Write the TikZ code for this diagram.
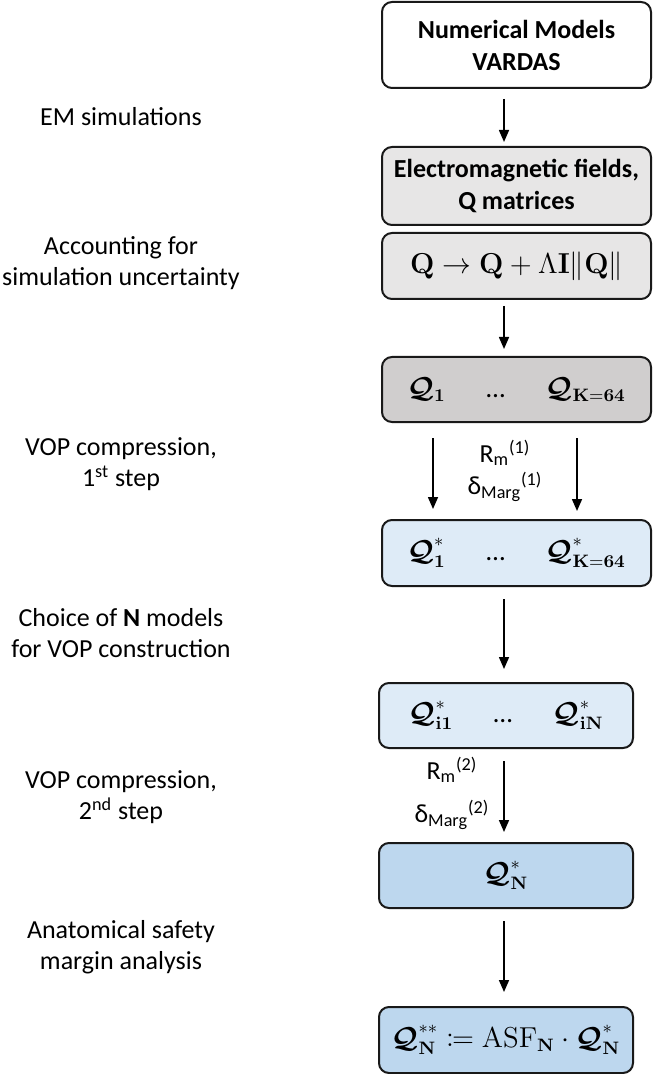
\documentclass[tikz,border=0pt]{standalone}
\usepackage{amsmath}
\usepackage{mathtools}
\usepackage{bm}
\usepackage[no-math]{fontspec}
\setmainfont{Carlito}
\usetikzlibrary{arrows.meta}

\definecolor{grayA}{HTML}{E7E6E6}
\definecolor{grayB}{HTML}{D0CECE}
\definecolor{blueA}{HTML}{DEEBF7}
\definecolor{blueB}{HTML}{BDD7EE}

\newcommand{\Qc}{\bm{\mathcal{Q}}}
\newcommand{\qdots}{\hspace{1.5em}\textnormal{…}\hspace{1.5em}}

\begin{document}
\begin{tikzpicture}[x=0.5pt,y=-0.5pt,
  box/.style={draw=black!90, line width=1pt, rounded corners=5pt, align=center,
    inner sep=0pt, font=\bfseries\fontsize{13}{16}\selectfont},
  wide/.style={box, minimum width=134.5pt},
  narrow/.style={box, minimum width=127pt},
  mathbox/.style={font=\fontsize{13.5}{16}\selectfont},
  side/.style={align=center, font=\fontsize{13}{15.5}\selectfont},
  lbl/.style={font=\fontsize{13}{15}\selectfont},
  arr/.style={-{Triangle[length=6pt,width=5pt]}, line width=0.8pt}]
\useasboundingbox (0,0) rectangle (652,1074);

\coordinate (ax) at (504,0);
\coordinate (axl) at (433,0);
\coordinate (axr) at (577,0);

% boxes
\node[wide, fill=white, minimum height=43pt] (models) at (516.5,45) {Numerical Models\\VARDAS};
\node[wide, fill=grayA, minimum height=39pt] (fields) at (516.5,186) {Electromagnetic fields,\\Q matrices};
\node[wide, fill=grayA, minimum height=33pt, mathbox] (uncert) at (516.5,266)
  {$\mathbf{Q}\rightarrow\mathbf{Q}+\Lambda\mathbf{I}\|\mathbf{Q}\|$};
\node[wide, fill=grayB, minimum height=32.5pt, mathbox] (qall) at (516.5,389.5)
  {$\Qc_{\mathbf{1}}\qdots\Qc_{\mathbf{K=64}}$};
\node[wide, fill=blueA, minimum height=33pt, mathbox] (qvop) at (516.5,553)
  {$\Qc^{*}_{\mathbf{1}}\qdots\Qc^{*}_{\mathbf{K=64}}$};
\node[narrow, fill=blueA, minimum height=32.5pt, mathbox] (qsel) at (506,715.5)
  {$\Qc^{*}_{\mathbf{i1}}\qdots\Qc^{*}_{\mathbf{iN}}$};
\node[narrow, fill=blueB, minimum height=32.5pt, mathbox] (qn) at (506,875.5)
  {$\Qc^{*}_{\mathbf{N}}$};
\node[narrow, fill=blueB, minimum height=33pt, mathbox] (asf) at (506,1040)
  {$\Qc^{**}_{\mathbf{N}}\coloneqq\mathrm{ASF}_{\mathbf{N}}\cdot\Qc^{*}_{\mathbf{N}}$};

% left side
\node[side] (em) at (121,117) {EM simulations};
\node[side] (acc) at (121,263) {Accounting for\\simulation uncertainty};
\node[side] (vop1) at (121,464) {VOP compression,\\1\textsuperscript{st} step};
\node[side] (choice) at (121,633) {Choice of \textbf{N} models\\for VOP construction};
\node[side] (vop2) at (121,797) {VOP compression,\\2\textsuperscript{nd} step};
\node[side] (anat) at (121,947) {Anatomical safety\\margin analysis};

% arrow labels
\node[lbl] (rm1) at (505,453) {R\textsubscript{m}\textsuperscript{(1)}};
\node[lbl] (dm1) at (505,487) {δ\textsubscript{Marg}\textsuperscript{(1)}};
\node[lbl] (rm2) at (452,770) {R\textsubscript{m}\textsuperscript{(2)}};
\node[lbl] (dm2) at (452,815) {δ\textsubscript{Marg}\textsuperscript{(2)}};

% arrows
\draw[arr, shorten <=5pt, shorten >=2pt] (models.south -| ax) -- (fields.north -| ax);
\draw[arr, shorten <=3pt, shorten >=3.5pt] (uncert.south -| ax) -- (qall.north -| ax);
\draw[arr, shorten <=7.5pt, shorten >=5pt] (qall.south -| axl) -- (qvop.north -| axl);
\draw[arr, shorten <=7.5pt, shorten >=4pt] (qall.south -| axr) -- (qvop.north -| axr);
\draw[arr, shorten <=6pt, shorten >=6.5pt] (qvop.south -| ax) -- (qsel.north -| ax);
\draw[arr, shorten <=6pt, shorten >=5pt] (qsel.south -| ax) -- (qn.north -| ax);
\draw[arr, shorten <=6pt, shorten >=7pt] (qn.south -| ax) -- (asf.north -| ax);
\end{tikzpicture}
\end{document}
